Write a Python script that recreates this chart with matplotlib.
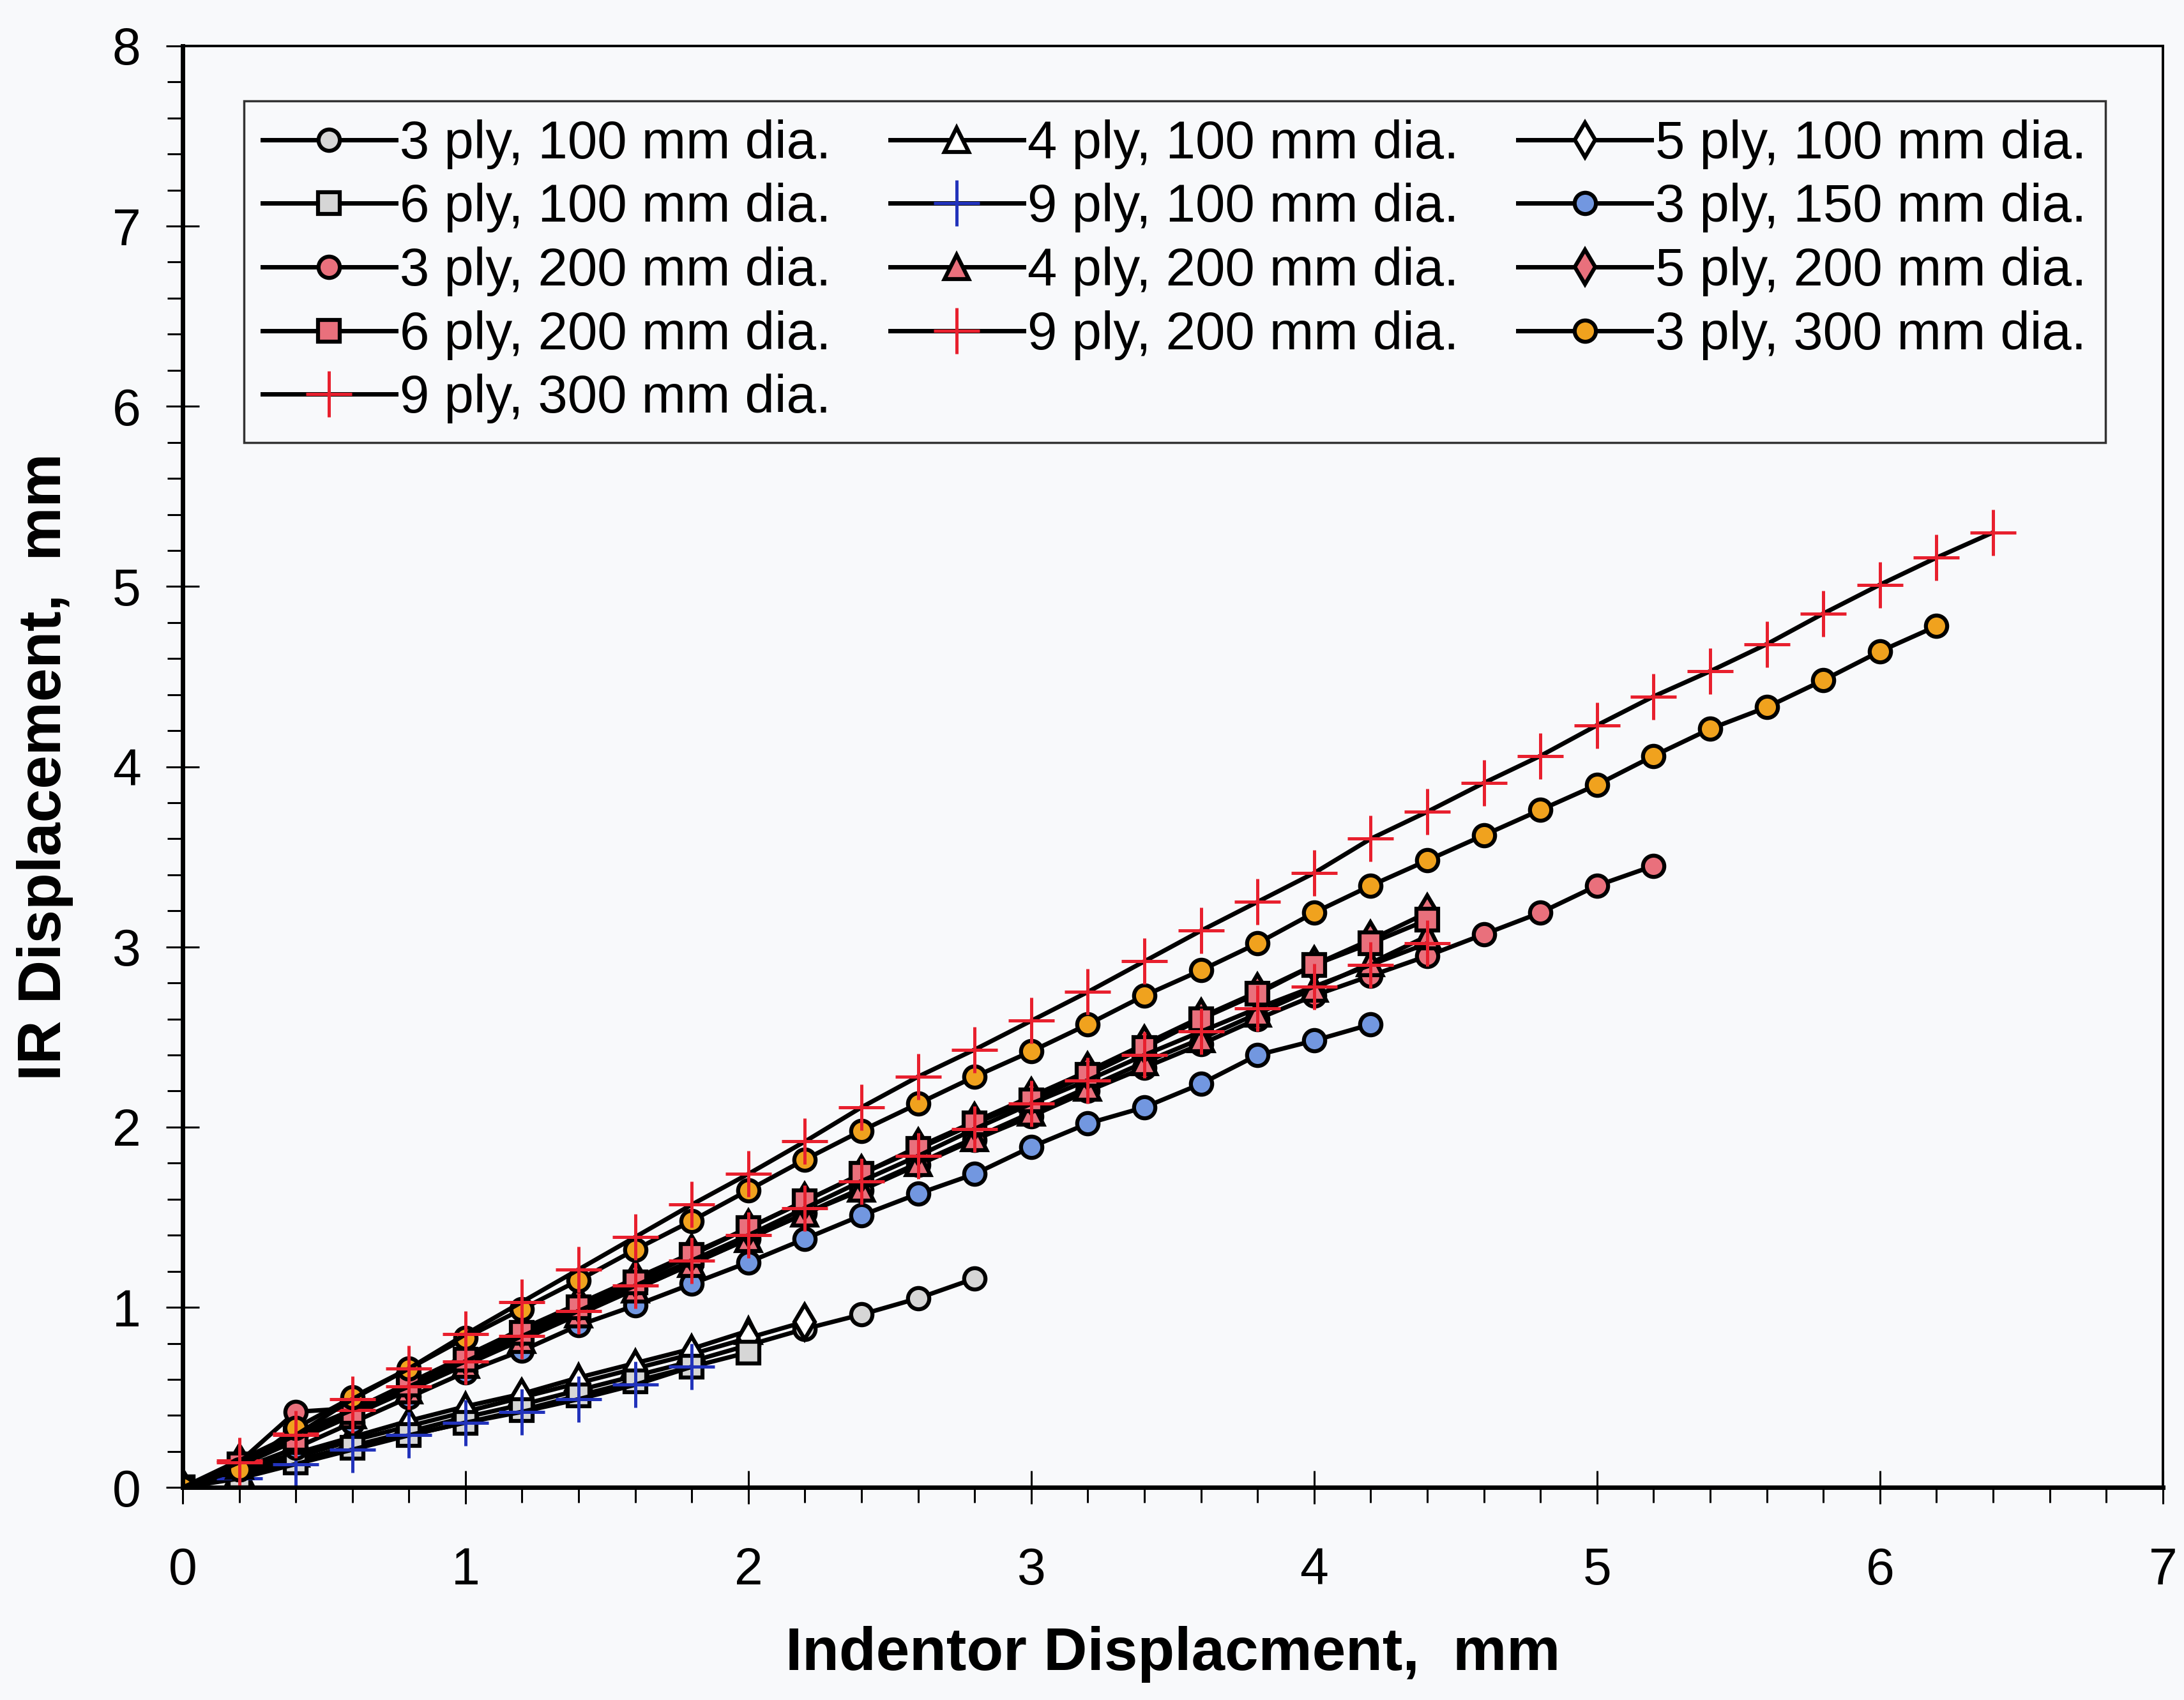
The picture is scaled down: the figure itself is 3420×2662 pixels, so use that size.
import matplotlib
matplotlib.use("Agg")
import matplotlib.pyplot as plt
from matplotlib.ticker import MultipleLocator

plt.rcParams['font.family'] = ['Liberation Sans', 'DejaVu Sans']

# x positions: indentor displacement every 0.2 mm
def xs(n):
    return [round(0.2 * i, 1) for i in range(n)]

# IR displacement readings (mm)
ply3_d100 = [0, 0.07, 0.15, 0.23, 0.31, 0.39, 0.46, 0.54, 0.62, 0.70, 0.79, 0.88, 0.96, 1.05, 1.16]
ply4_d100 = [0, 0.09, 0.19, 0.28, 0.37, 0.45, 0.52, 0.61, 0.69, 0.77, 0.87]
ply5_d100 = [0, 0.08, 0.17, 0.26, 0.34, 0.42, 0.50, 0.58, 0.66, 0.74, 0.83, 0.92]
ply6_d100 = [0, 0.06, 0.14, 0.22, 0.29, 0.36, 0.43, 0.51, 0.59, 0.67, 0.75]
ply9_d100 = [0, 0.05, 0.13, 0.21, 0.29, 0.36, 0.42, 0.49, 0.57, 0.67]
ply3_d150 = [0, 0.10, 0.22, 0.36, 0.50, 0.64, 0.76, 0.90, 1.01, 1.13, 1.25, 1.38, 1.51, 1.63, 1.74,
             1.89, 2.02, 2.11, 2.24, 2.40, 2.48, 2.57]
ply3_d200 = [0, 0.14, 0.42, 0.44, 0.56, 0.70, 0.84, 0.97, 1.10, 1.24, 1.38, 1.52, 1.65, 1.79, 1.93,
             2.06, 2.20, 2.33, 2.46, 2.60, 2.73, 2.84, 2.95, 3.07, 3.19, 3.34, 3.45]
ply4_d200 = [0, 0.12, 0.26, 0.40, 0.54, 0.68, 0.82, 0.96, 1.10, 1.24, 1.38, 1.52, 1.66, 1.80, 1.94,
             2.08, 2.22, 2.36, 2.49, 2.63, 2.77, 2.91, 3.06]
ply5_d200 = [0, 0.14, 0.28, 0.43, 0.58, 0.73, 0.88, 1.02, 1.16, 1.30, 1.44, 1.59, 1.74, 1.89, 2.03,
             2.17, 2.31, 2.46, 2.61, 2.75, 2.90, 3.04, 3.19]
ply6_d200 = [0, 0.13, 0.27, 0.42, 0.57, 0.71, 0.86, 1.00, 1.14, 1.29, 1.44, 1.59, 1.74, 1.88, 2.02,
             2.15, 2.29, 2.44, 2.60, 2.74, 2.90, 3.02, 3.15]
ply9_d200 = [0, 0.15, 0.30, 0.43, 0.56, 0.70, 0.84, 0.98, 1.12, 1.26, 1.40, 1.55, 1.70, 1.84, 1.99,
             2.13, 2.26, 2.40, 2.53, 2.66, 2.78, 2.90, 3.02]
ply3_d300 = [0, 0.10, 0.33, 0.50, 0.66, 0.83, 0.99, 1.15, 1.32, 1.48, 1.65, 1.82, 1.98, 2.13, 2.28,
             2.42, 2.57, 2.73, 2.87, 3.02, 3.19, 3.34, 3.48, 3.62, 3.76, 3.90, 4.06, 4.21, 4.33,
             4.48, 4.64, 4.78]
ply9_d300 = [0, 0.14, 0.29, 0.49, 0.66, 0.85, 1.03, 1.21, 1.39, 1.57, 1.74, 1.92, 2.11, 2.28, 2.43,
             2.59, 2.75, 2.92, 3.09, 3.25, 3.41, 3.60, 3.75, 3.91, 4.06, 4.23, 4.39, 4.53, 4.68,
             4.85, 5.01, 5.16, 5.30]

labels = ["3 ply, 100 mm dia.", "4 ply, 100 mm dia.", "5 ply, 100 mm dia.",
          "6 ply, 100 mm dia.", "9 ply, 100 mm dia.", "3 ply, 150 mm dia.",
          "3 ply, 200 mm dia.", "4 ply, 200 mm dia.", "5 ply, 200 mm dia.",
          "6 ply, 200 mm dia.", "9 ply, 200 mm dia.", "3 ply, 300 mm dia.",
          "9 ply, 300 mm dia."]
data = [ply3_d100, ply4_d100, ply5_d100, ply6_d100, ply9_d100, ply3_d150,
        ply3_d200, ply4_d200, ply5_d200, ply6_d200, ply9_d200, ply3_d300, ply9_d300]

gray = '#d6d6d6'
pink = '#e9707c'
styles = [('o', gray), ('^', 'white'), ('d', 'white'), ('s', gray), ('+', '#2233bb'),
          ('o', '#7297e0'), ('o', pink), ('^', pink), ('d', pink), ('s', pink),
          ('+', '#e8202e'), ('o', '#f0a21e'), ('+', '#e8202e')]

fig = plt.figure(figsize=(34.2, 26.62), dpi=100, facecolor='#f8f9fb')
ax = fig.add_axes([0.0836, 0.125, 0.9067, 0.848])
ax.set_facecolor('#f8f9fb')

handles = []
for y, lab, (m, c) in zip(data, labels, styles):
    if m == '+':
        h, = ax.plot(xs(len(y)), y, color='black', lw=5, marker='+', ms=52,
                     mew=3.6, mec=c, label=lab)
    else:
        ms = 24 if m in ('o', 's') else 27
        h, = ax.plot(xs(len(y)), y, color='black', lw=5, marker=m, ms=ms,
                     mfc=c, mec='black', mew=4.5, label=lab)
    handles.append(h)

ax.set_xlim(0, 7)
ax.set_ylim(0, 8)
ax.xaxis.set_major_locator(MultipleLocator(1))
ax.xaxis.set_minor_locator(MultipleLocator(0.2))
ax.yaxis.set_major_locator(MultipleLocator(1))
ax.yaxis.set_minor_locator(MultipleLocator(0.2))
ax.tick_params(which='major', direction='inout', length=38, width=2.2, labelsize=58)
ax.tick_params(which='minor', direction='out', length=17, width=2.2)
ax.tick_params(axis='x', which='major', pad=48)
ax.tick_params(axis='y', which='major', pad=28)

for side in ['left', 'bottom']:
    ax.spines[side].set_linewidth(5)
for side in ['top', 'right']:
    ax.spines[side].set_linewidth(2.8)

ax.set_xlabel("Indentor Displacment,  mm", fontsize=68, fontweight='bold', labelpad=34)
ax.set_ylabel("IR Displacement,  mm", fontsize=68, fontweight='bold', labelpad=44)

# legend is filled row by row in the original
order = [0, 3, 6, 9, 12, 1, 4, 7, 10, 2, 5, 8, 11]
leg = ax.legend([handles[i] for i in order], [labels[i] for i in order],
                ncol=3, loc='upper left', mode='expand',
                bbox_to_anchor=(0.031, 0.7227, 0.94, 0.2393), borderaxespad=0,
                fontsize=60, handlelength=2.5, handletextpad=0.08, labelspacing=0.26,
                borderpad=0.35, columnspacing=0.5, fancybox=False, framealpha=1,
                edgecolor='#333333')
leg.get_frame().set_linewidth(2.5)
leg.get_frame().set_facecolor('#f8f9fb')

fig.savefig("out.png", dpi=100, facecolor=fig.get_facecolor())
